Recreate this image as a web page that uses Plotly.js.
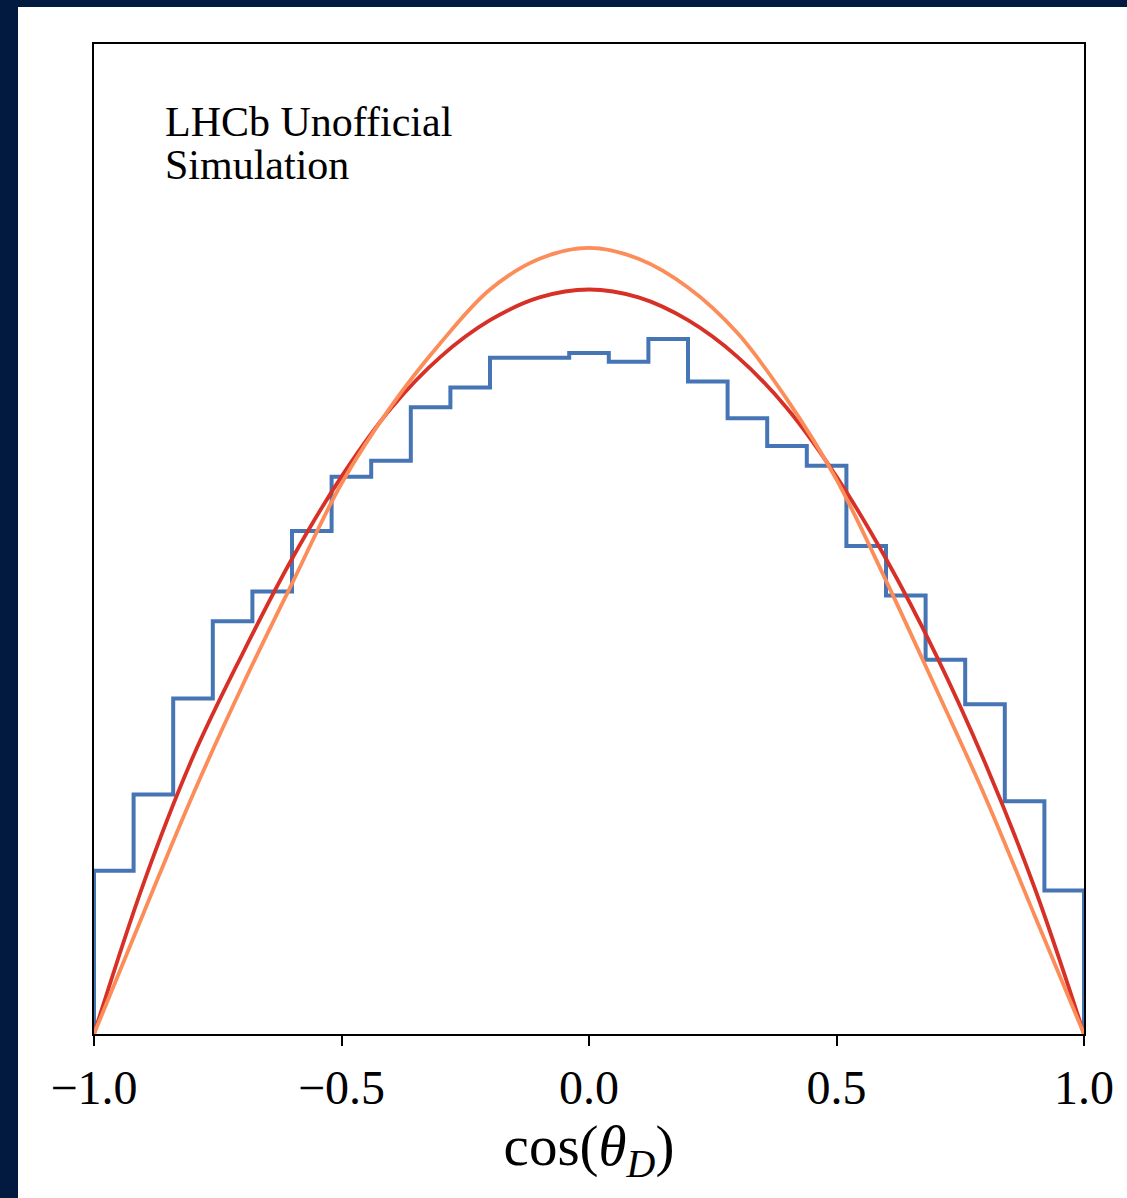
<!DOCTYPE html>
<html>
<head>
<meta charset="utf-8">
<script src="https://cdn.plot.ly/plotly-3.0.1.min.js"></script>
<style>
  html, body { margin: 0; padding: 0; background: #031a40; width: 1127px; height: 1198px; overflow: hidden; }
  #frame { position: absolute; left: 18px; top: 7px; width: 1109px; height: 1191px; background: #ffffff; }
  #chart { width: 1109px; height: 1191px; }
</style>
</head>
<body>
<div id="frame"><div id="chart"></div></div>
<script>
// Histogram bin edges (cos theta_D) and normalised counts
const binEdges = [-1.00, -0.92, -0.84, -0.76, -0.68, -0.60, -0.52, -0.44, -0.36, -0.28, -0.20, -0.12, -0.04,
                  0.04, 0.12, 0.20, 0.28, 0.36, 0.44, 0.52, 0.60, 0.68, 0.76, 0.84, 0.92, 1.00];
const histValues = [0.165, 0.242, 0.339, 0.417, 0.447, 0.508, 0.563, 0.579, 0.633, 0.653, 0.683, 0.683, 0.688,
                    0.679, 0.702, 0.659, 0.622, 0.594, 0.574, 0.493, 0.443, 0.378, 0.333, 0.235, 0.145];

const curveX = [-1.0, -0.9, -0.8, -0.7, -0.6, -0.5, -0.4, -0.3, -0.2, -0.1, 0.0,
                 0.1, 0.2, 0.3, 0.4, 0.5, 0.6, 0.7, 0.8, 0.9, 1.0];
const redY = [0, 0.152, 0.280, 0.384, 0.480, 0.563, 0.632, 0.684, 0.721, 0.744, 0.752,
              0.744, 0.721, 0.684, 0.632, 0.563, 0.480, 0.384, 0.274, 0.148, 0];
const orangeY = [0, 0.122, 0.242, 0.352, 0.455, 0.556, 0.634, 0.698, 0.752, 0.783, 0.794,
                 0.783, 0.754, 0.708, 0.641, 0.560, 0.458, 0.350, 0.240, 0.120, 0];

const tickVals = [-1.0, -0.5, 0.0, 0.5, 1.0];
const tickText = ["\u22121.0", "\u22120.5", "0.0", "0.5", "1.0"];
const labelLines = ["LHCb Unofficial", "Simulation"];

// Build step outline of histogram (matplotlib histtype='step')
const stepX = [binEdges[0]].concat(binEdges.slice(0, -1), [binEdges[binEdges.length - 1], binEdges[binEdges.length - 1]]);
const stepY = [0].concat(histValues, [histValues[histValues.length - 1], 0]);

const serif = "Liberation Serif, Times New Roman, serif";

const traces = [
  { x: stepX, y: stepY, type: 'scatter', mode: 'lines', line: { shape: 'hv', color: '#4575b4', width: 4 }, hoverinfo: 'skip' },
  { x: curveX, y: redY, type: 'scatter', mode: 'lines', line: { shape: 'spline', smoothing: 1, color: '#d73027', width: 3.8 }, hoverinfo: 'skip' },
  { x: curveX, y: orangeY, type: 'scatter', mode: 'lines', line: { shape: 'spline', smoothing: 1, color: '#fc8d59', width: 3.8 }, hoverinfo: 'skip' }
];

const layout = {
  width: 1109, height: 1191,
  margin: { l: 76, r: 43, t: 37, b: 164 },
  paper_bgcolor: '#ffffff', plot_bgcolor: '#ffffff',
  showlegend: false,
  font: { family: serif, color: '#000000' },
  xaxis: {
    range: [-1, 1], showgrid: false, zeroline: false,
    showline: true, linecolor: '#000000', linewidth: 2, mirror: true,
    ticks: 'outside', ticklen: 10, tickwidth: 2, tickcolor: '#000000',
    tickvals: tickVals, ticktext: tickText,
    tickfont: { family: serif, size: 48, color: '#000000' },
    title: { text: 'cos(<i>θ</i><sub><i>D</i></sub>)', font: { family: serif, size: 57, color: '#000000' }, standoff: 2 }
  },
  yaxis: {
    range: [0, 1], showgrid: false, zeroline: false,
    showline: true, linecolor: '#000000', linewidth: 2, mirror: true,
    ticks: '', showticklabels: false
  },
  annotations: [
    { text: labelLines[0], xref: 'paper', yref: 'paper', x: 0.0697, y: 0.921, xanchor: 'left', yanchor: 'middle', showarrow: false, font: { family: serif, size: 42, color: '#000000' } },
    { text: labelLines[1], xref: 'paper', yref: 'paper', x: 0.0697, y: 0.878, xanchor: 'left', yanchor: 'middle', showarrow: false, font: { family: serif, size: 42, color: '#000000' } }
  ]
};

Plotly.newPlot('chart', traces, layout, { staticPlot: true, displayModeBar: false });
</script>
</body>
</html>
